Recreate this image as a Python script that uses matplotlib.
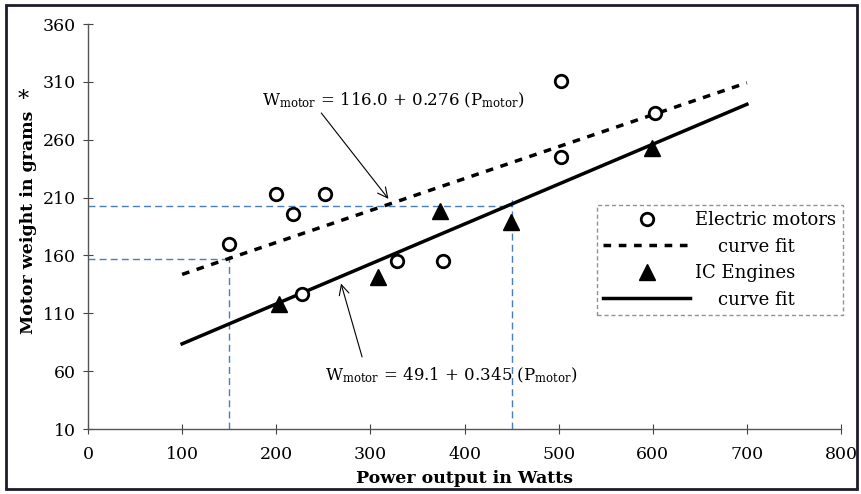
import matplotlib
matplotlib.use("Agg")
import matplotlib.pyplot as plt
from matplotlib.patches import Rectangle
from matplotlib.lines import Line2D

plt.rcParams['font.family'] = ['DejaVu Serif']
plt.rcParams['mathtext.fontset'] = 'custom'
plt.rcParams['mathtext.rm'] = 'DejaVu Serif'
plt.rcParams['mathtext.it'] = 'DejaVu Serif:italic'

# electric motors (open circles)
em_power = [150, 200, 218, 227, 252, 328, 377, 502, 503, 602]
em_weight = [170, 213, 196, 127, 213, 155, 155, 245, 311, 283]

# IC engines (filled triangles)
ic_power = [203, 308, 374, 449, 599]
ic_weight = [118, 141, 198, 189, 253]

# curve fits  W = a + b * P
em_fit = (116.0, 0.276)
ic_fit = (49.1, 0.345)
fit_range = [100, 700]

# blue reference lines
ref_power = [150, 450]
ref_weight = [157, 203]

x_ticks = [0, 100, 200, 300, 400, 500, 600, 700, 800]
y_ticks = [10, 60, 110, 160, 210, 260, 310, 360]

fig = plt.figure(figsize=(8.61, 4.94), dpi=100)
ax = fig.add_axes([88 / 861, 1 - 429 / 494, (841 - 88) / 861, (429 - 24) / 494])

# reference dashed blue lines
blue = '#4a7ebb'
for p, w in zip(ref_power, ref_weight):
    ax.plot([0, p], [w, w], color=blue, lw=1, dashes=(5, 3))
    ax.plot([p, p], [10, w + 6], color=blue, lw=1, dashes=(5, 3))

em_line = [em_fit[0] + em_fit[1] * p for p in fit_range]
ic_line = [ic_fit[0] + ic_fit[1] * p for p in fit_range]
ax.plot(fit_range, em_line, color='black', lw=2.5, dashes=(2.2, 2.2))
ax.plot(fit_range, ic_line, color='black', lw=2.5)

ax.plot(em_power, em_weight, 'o', ms=9, mfc='white', mec='black', mew=2, zorder=5)
ax.plot(ic_power, ic_weight, '^', ms=11, mfc='black', mec='black', zorder=5)

# equations with pointer arrows
ax.text(185, 294, r'W$_{\rm motor}$ = 116.0 + 0.276 (P$_{\rm motor}$)',
        fontsize=12, va='center', ha='left')
ax.annotate('', xy=(321, 207), xytext=(246, 285),
            arrowprops=dict(arrowstyle='->', lw=0.8, color='black',
                            mutation_scale=18))
ax.text(252, 56, r'W$_{\rm motor}$ = 49.1 + 0.345 (P$_{\rm motor}$)',
        fontsize=12, va='center', ha='left')
ax.annotate('', xy=(268, 138), xytext=(292, 70),
            arrowprops=dict(arrowstyle='->', lw=0.8, color='black',
                            mutation_scale=18))

ax.set_xlim(0, 800)
ax.set_ylim(10, 360)
ax.set_xticks(x_ticks)
ax.set_yticks(y_ticks)
ax.tick_params(direction='inout', length=7, width=0.8, color='#444444',
               labelsize=12.5)
ax.tick_params(axis='x', pad=9)
ax.tick_params(axis='y', pad=5)
for s in ['top', 'right']:
    ax.spines[s].set_visible(False)
for s in ['left', 'bottom']:
    ax.spines[s].set_color('#555555')
    ax.spines[s].set_linewidth(1)

ax.set_xlabel('Power output in Watts', fontsize=12.5, fontweight='bold')
ax.set_ylabel('Motor weight in grams', fontsize=12.5, fontweight='bold')
ax.xaxis.set_label_coords(0.5, (429 - 470) / 405)
ax.yaxis.set_label_coords((37 - 88) / 753, 0.51)
fig.text(23 / 861, 1 - 100 / 494, '*', fontsize=16, ha='center', va='center')

handles = [
    Line2D([], [], ls='none', marker='o', ms=9, mfc='white', mec='black', mew=2),
    Line2D([], [], color='black', lw=2.5, dashes=(2.2, 2.2)),
    Line2D([], [], ls='none', marker='^', ms=11, mfc='black', mec='black'),
    Line2D([], [], color='black', lw=2.5),
]
labels = ['Electric motors', '    curve fit', 'IC Engines', '    curve fit']
leg = fig.legend(handles, labels, loc='upper left',
                 bbox_to_anchor=(597 / 861, 1 - 205 / 494),
                 fontsize=13, frameon=True, fancybox=False,
                 handlelength=4.8, handletextpad=0.3, labelspacing=0.47,
                 borderpad=0.35, borderaxespad=0)
leg.get_frame().set_edgecolor('#777777')
leg.get_frame().set_linestyle((0, (3, 2)))
leg.get_frame().set_linewidth(1)

# outer border of the scanned figure
fig.patches.append(Rectangle((6 / 861, 5 / 494), 851 / 861, 484 / 494,
                             transform=fig.transFigure, fill=False,
                             edgecolor='#1c1c2a', lw=2))

fig.savefig('out.png', dpi=100)
